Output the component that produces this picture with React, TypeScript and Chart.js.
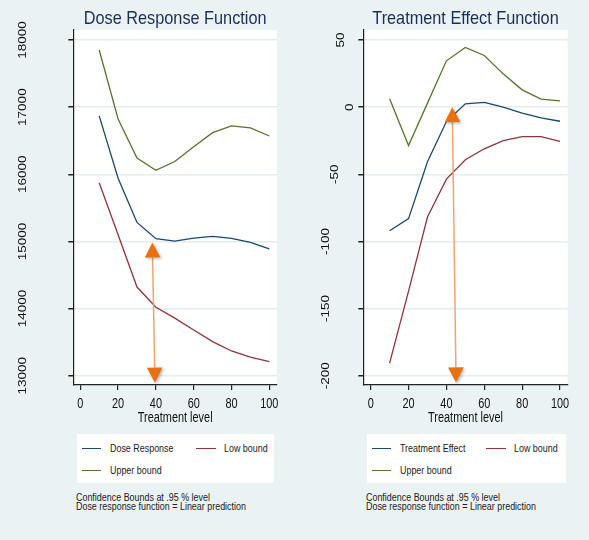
import React, { useEffect, useRef } from 'react';
import { Chart, registerables } from 'chart.js';

Chart.register(...registerables);

const FONT = "'Liberation Sans', Arial, Helvetica, sans-serif";
const BG = '#EAF2F3';
const NAVY = '#1A476F';
const MAROON = '#90353B';
const GREEN = '#55752F';
const TITLE_COLOR = '#1C2D59';
const AXIS_COLOR = '#222222';

// ---- data ----
const treatmentLevels = [10, 20, 30, 40, 50, 60, 70, 80, 90, 100];
const xTickValues = [0, 20, 40, 60, 80, 100];

const doseResponse = [16870, 15940, 15283, 15040, 15005, 15050, 15075, 15045, 14985, 14890];
const doseLowBound = [15875, 15100, 14320, 14020, 13857, 13680, 13507, 13368, 13275, 13209];
const doseUpperBound = [17851, 16823, 16240, 16060, 16190, 16410, 16620, 16720, 16690, 16570];
const doseYTicks = [13000, 14000, 15000, 16000, 17000, 18000];
const doseArrowX = [38.1, 39.5];
const doseArrowY = [14985, 12896];

const treatmentEffect = [-92, -83, -40.6, -10.7, 2.5, 3.5, 0, -4.5, -8, -10.5];
const effectLowBound = [-190.6, -137, -81.8, -53.6, -39.2, -31, -25, -21.9, -21.9, -25.5];
const effectUpperBound = [6.2, -28.6, 3, 34.5, 44.4, 38.5, 24.8, 12.9, 6, 4.7];
const effectYTicks = [-200, -150, -100, -50, 0, 50];
const effectArrowX = [43.1, 45.1];
const effectArrowY = [0, -205];

const xAxisTitle = 'Treatment level';
const noteLines = ['Confidence Bounds at .95 % level', 'Dose response function = Linear prediction'];

type Series = { label: string; data: number[]; color: string };

type PanelCfg = {
  title: string;
  left: number;
  width: number;
  series: Series[];
  yTicks: number[];
  yMin: number;
  yMax: number;
  xMin: number;
  xMax: number;
  arrowX: number[];
  arrowY: number[];
  padding: { left: number; right: number; top: number; bottom: number };
  legendLeft: number;
  legendWidth: number;
};

const CANVAS_H = 430;

const panels: PanelCfg[] = [
  {
    title: 'Dose Response Function',
    left: 0,
    width: 295,
    series: [
      { label: 'Dose Response', data: doseResponse, color: NAVY },
      { label: 'Low bound', data: doseLowBound, color: MAROON },
      { label: 'Upper bound', data: doseUpperBound, color: GREEN },
    ],
    yTicks: doseYTicks,
    yMin: 12861,
    yMax: 18149,
    xMin: -3.7,
    xMax: 104.07,
    arrowX: doseArrowX,
    arrowY: doseArrowY,
    padding: { left: 63.3, right: 18, top: 30, bottom: 35 },
    legendLeft: 77.3,
    legendWidth: 196.7,
  },
  {
    title: 'Treatment Effect Function',
    left: 295,
    width: 294,
    series: [
      { label: 'Treatment Effect', data: treatmentEffect, color: NAVY },
      { label: 'Low bound', data: effectLowBound, color: MAROON },
      { label: 'Upper bound', data: effectUpperBound, color: GREEN },
    ],
    yTicks: effectYTicks,
    yMin: -206.9,
    yMax: 57.45,
    xMin: -3.9,
    xMax: 104.07,
    arrowX: effectArrowX,
    arrowY: effectArrowY,
    padding: { left: 58.3, right: 21.3, top: 30, bottom: 35 },
    legendLeft: 367.3,
    legendWidth: 198.7,
  },
];

function condensedText(
  ctx: CanvasRenderingContext2D,
  text: string,
  x: number,
  y: number,
  font: string,
  color: string,
  sx: number,
  align: CanvasTextAlign
) {
  ctx.save();
  ctx.translate(x, y);
  ctx.scale(sx, 1);
  ctx.font = font;
  ctx.fillStyle = color;
  ctx.textAlign = align;
  ctx.textBaseline = 'alphabetic';
  ctx.fillText(text, 0, 0);
  ctx.restore();
}

function Panel({ cfg }: { cfg: PanelCfg }) {
  const ref = useRef<HTMLCanvasElement>(null);

  useEffect(() => {
    const canvas = ref.current;
    if (!canvas) return;

    const decor = {
      id: 'stataDecor',
      beforeDraw(chart: any) {
        const { ctx, chartArea: a } = chart;
        ctx.save();
        ctx.fillStyle = '#FFFFFF';
        ctx.fillRect(a.left, a.top, a.right - a.left, a.bottom - a.top);
        ctx.restore();
      },
      afterDatasetsDraw(chart: any) {
        const { ctx } = chart;
        const xs = chart.scales.x;
        const ys = chart.scales.y;
        const x1 = xs.getPixelForValue(cfg.arrowX[0]);
        const y1 = ys.getPixelForValue(cfg.arrowY[0]);
        const x2 = xs.getPixelForValue(cfg.arrowX[1]);
        const y2 = ys.getPixelForValue(cfg.arrowY[1]);
        const len = Math.hypot(x2 - x1, y2 - y1);
        const dx = (x2 - x1) / len;
        const dy = (y2 - y1) / len;
        const L = 15;
        const H = 7.8;
        ctx.save();
        ctx.strokeStyle = '#F2A46E';
        ctx.lineWidth = 1.5;
        ctx.beginPath();
        ctx.moveTo(x1 + dx * L, y1 + dy * L);
        ctx.lineTo(x2 - dx * L, y2 - dy * L);
        ctx.stroke();
        ctx.fillStyle = '#E8700E';
        ctx.shadowColor = 'rgba(0,0,0,0.28)';
        ctx.shadowBlur = 3;
        ctx.shadowOffsetX = 1.5;
        ctx.shadowOffsetY = 1.5;
        const head = (tx: number, ty: number, ux: number, uy: number) => {
          const bx = tx - ux * L;
          const by = ty - uy * L;
          ctx.beginPath();
          ctx.moveTo(tx, ty);
          ctx.lineTo(bx - uy * H, by + ux * H);
          ctx.lineTo(bx + uy * H, by - ux * H);
          ctx.closePath();
          ctx.fill();
        };
        head(x1, y1, -dx, -dy);
        head(x2, y2, dx, dy);
        ctx.restore();
      },
      afterDraw(chart: any) {
        const { ctx, chartArea: a } = chart;
        const xs = chart.scales.x;
        const ys = chart.scales.y;
        const cx = (a.left + a.right) / 2;
        // title
        condensedText(ctx, cfg.title, cx, 23.5, `18.5px ${FONT}`, TITLE_COLOR, 0.88, 'center');
        // x tick labels
        xTickValues.forEach((v) => {
          condensedText(ctx, String(v), xs.getPixelForValue(v), a.bottom + 23, `14px ${FONT}`, '#111111', 0.78, 'center');
        });
        // x axis title
        condensedText(ctx, xAxisTitle, cx, a.bottom + 36.5, `14px ${FONT}`, '#111111', 0.78, 'center');
        // y tick labels (vertical)
        const fs = 13.5;
        const cap = fs * 0.716;
        cfg.yTicks.forEach((v) => {
          const label = String(v);
          ctx.save();
          ctx.font = `12px ${FONT}`;
          const w12 = ctx.measureText(label).width;
          ctx.restore();
          const lx = a.left - (5 + 1.37 * w12);
          const ly = ys.getPixelForValue(v);
          ctx.save();
          ctx.translate(lx, ly);
          ctx.scale(0.8, 1);
          ctx.rotate(-Math.PI / 2);
          ctx.font = `${fs}px ${FONT}`;
          ctx.fillStyle = '#111111';
          ctx.textAlign = 'center';
          ctx.textBaseline = 'alphabetic';
          ctx.fillText(label, 0, cap / 2);
          ctx.restore();
        });
      },
    };

    const chart = new Chart(canvas, {
      type: 'line',
      data: {
        datasets: cfg.series.map((s) => ({
          label: s.label,
          data: treatmentLevels.map((x, i) => ({ x, y: s.data[i] })),
          borderColor: s.color,
          backgroundColor: s.color,
          borderWidth: 1.3,
          pointRadius: 0,
          fill: false,
          tension: 0,
        })),
      },
      options: {
        animation: false,
        responsive: false,
        devicePixelRatio: 1,
        layout: { padding: cfg.padding },
        plugins: { legend: { display: false }, tooltip: { enabled: false }, title: { display: false } },
        scales: {
          x: {
            type: 'linear',
            min: cfg.xMin,
            max: cfg.xMax,
            afterBuildTicks: (s: any) => {
              s.ticks = xTickValues.map((v) => ({ value: v }));
            },
            afterFit: (s: any) => {
              s.height = 10;
            },
            ticks: { display: false },
            grid: {
              drawOnChartArea: false,
              drawTicks: true,
              tickLength: 5,
              tickColor: AXIS_COLOR,
              color: AXIS_COLOR,
              lineWidth: 1.2,
            },
            border: { display: true, color: AXIS_COLOR, width: 1.2 },
          },
          y: {
            type: 'linear',
            min: cfg.yMin,
            max: cfg.yMax,
            afterBuildTicks: (s: any) => {
              s.ticks = cfg.yTicks.map((v) => ({ value: v }));
            },
            afterFit: (s: any) => {
              s.width = 10;
            },
            ticks: { display: false },
            grid: {
              drawOnChartArea: true,
              drawTicks: true,
              tickLength: 5,
              tickColor: AXIS_COLOR,
              color: '#E3ECEE',
              lineWidth: 1.5,
            },
            border: { display: true, color: AXIS_COLOR, width: 1.2 },
          },
        },
      } as any,
      plugins: [decor as any],
    });

    return () => chart.destroy();
  }, [cfg]);

  return (
    <canvas
      ref={ref}
      width={cfg.width}
      height={CANVAS_H}
      style={{ position: 'absolute', left: cfg.left, top: 0, width: cfg.width, height: CANVAS_H }}
    />
  );
}

const textStyle = (left: number, top: number): React.CSSProperties => ({
  position: 'absolute',
  left,
  top,
  fontFamily: FONT,
  fontSize: '10.5px',
  lineHeight: '12px',
  color: '#1A1A1A',
  whiteSpace: 'nowrap',
  transform: 'scaleX(0.85)',
  transformOrigin: 'left top',
});

function Legend({ cfg }: { cfg: PanelCfg }) {
  const L = cfg.legendLeft;
  const slots = [
    { lx: 4.4, tx: 32.7, ly: 448.3, base: 451.7 },
    { lx: 119, tx: 146.7, ly: 448.3, base: 451.7 },
    { lx: 4.4, tx: 32.7, ly: 470.2, base: 474 },
  ];
  return (
    <>
      <div
        style={{
          position: 'absolute',
          left: L,
          top: 434.3,
          width: cfg.legendWidth,
          height: 49,
          background: '#FFFFFF',
        }}
      />
      {cfg.series.map((s, i) => {
        const sl = slots[i];
        return (
          <React.Fragment key={s.label}>
            <div
              style={{
                position: 'absolute',
                left: L + sl.lx,
                top: sl.ly - 0.65,
                width: 19.5,
                height: 1.3,
                background: s.color,
              }}
            />
            <div style={textStyle(L + sl.tx, sl.base - 9.64)}>{s.label}</div>
          </React.Fragment>
        );
      })}
      {noteLines.map((t, i) => (
        <div key={t} style={textStyle(L - 1.5, 500.3 + i * 9.8 - 9.64)}>
          {t}
        </div>
      ))}
    </>
  );
}

export default function App() {
  return (
    <div
      style={{
        position: 'fixed',
        left: 0,
        top: 0,
        width: 589,
        height: 540,
        background: BG,
        overflow: 'hidden',
      }}
    >
      {panels.map((p) => (
        <Panel key={p.title} cfg={p} />
      ))}
      {panels.map((p) => (
        <Legend key={p.title + '-legend'} cfg={p} />
      ))}
    </div>
  );
}
